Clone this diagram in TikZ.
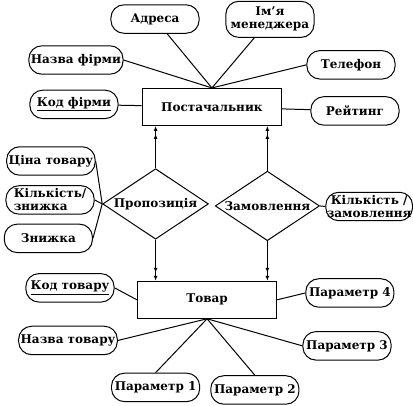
\documentclass[tikz,border=0pt]{standalone}
\usepackage{fontspec}
\setmainfont{DejaVu Serif}
\usetikzlibrary{shapes,arrows.meta,positioning}

\begin{document}
\begin{tikzpicture}[font=\bfseries\fontsize{12}{13}\selectfont]
  \tikzstyle{attr}=[rectangle, draw, line width=1pt, rounded corners=13pt, minimum width=3.1cm, minimum height=1cm, align=center, inner sep=2pt]
  \tikzstyle{entity}=[rectangle, draw, line width=1pt, minimum width=4.9cm, minimum height=1.3cm]
  \tikzstyle{rel}=[diamond, draw, line width=1pt, aspect=1.5, inner sep=1pt]
  \tikzstyle{link}=[line width=1pt]
  \tikzstyle{many}=[line width=1pt, -{Latex[length=5pt,width=4pt,sep=3pt]Latex[length=5pt,width=4pt]}]

  \useasboundingbox (0,0) rectangle (14.52,14.27);

  % Постачальник
  \node[entity] (post) at (7.45,10.51) {Постачальник};
  \node[attr] (adresa) at (5.45,13.60) {Адреса};
  \node[attr, minimum height=1.27cm] (menedzher) at (9.49,13.59) {Ім’я\\менеджера};
  \node[attr] (nazvaf) at (2.67,12.16) {Назва фірми};
  \node[attr] (telefon) at (12.34,11.99) {Телефон};
  \node[attr] (kodf) at (2.60,10.60) {\underline{Код фірми}};
  \node[attr] (reiting) at (12.48,10.37) {Рейтинг};

  % Зв'язки
  \node[rel] (propoz) at (5.47,7.10) {Пропозиція};
  \node[rel] (zamovl) at (9.40,7.03) {Замовлення};
  \node[attr] (cina) at (1.79,8.61) {Ціна товару};
  \node[attr, align=left] (kilkz) at (1.76,7.24) {Кількість/\\знижка};
  \node[attr] (znyzhka) at (1.70,5.89) {Знижка};
  \node[attr, minimum width=2.99cm, inner sep=1pt, anchor=east] (kilkzam) at (14.52,7.01) {Кількість /\\замовлення};

  % Товар
  \node[entity] (tovar) at (7.28,3.73) {Товар};
  \node[attr] (kodt) at (2.46,4.15) {\underline{Код товару}};
  \node[attr] (nazvat) at (2.39,2.30) {Назва товару};
  \node[attr] (par1) at (5.47,0.65) {Параметр 1};
  \node[attr] (par2) at (8.96,0.56) {Параметр 2};
  \node[attr] (par3) at (12.20,2.11) {Параметр 3};
  \node[attr] (par4) at (12.30,3.97) {Параметр 4};

  % Атрибути постачальника
  \draw[link] (adresa) -- (post.north);
  \draw[link] (nazvaf.east) -- (post.north);
  \draw[link] (menedzher) -- (post.north);
  \draw[link] (telefon.west) -- (post.north);
  \draw[link] (kodf) -- (post);
  \draw[link] (reiting) -- (post);

  % Атрибути зв'язків
  \draw[link] (cina.east) -- (propoz.west);
  \draw[link] (kilkz.east) -- (propoz.west);
  \draw[link] (znyzhka.east) -- (propoz.west);
  \draw[link] (zamovl.east) -- (kilkzam.west);

  % Атрибути товару
  \draw[link] (kodt.east) -- (tovar.west);
  \draw[link] (nazvat.east) -- (tovar.south);
  \draw[link] (par1.north) -- (tovar.south);
  \draw[link] (par2.north) -- (tovar.south);
  \draw[link] (par3.west) -- (tovar.south);
  \draw[link] (par4.west) -- (tovar.east);

  % Стрілки
  \draw[many] (propoz.north) -- (propoz.north |- post.south);
  \draw[many] (zamovl.north) -- (zamovl.north |- post.south);
  \draw[many] (propoz.south) -- (propoz.south |- tovar.north);
  \draw[many] (zamovl.south) -- (zamovl.south |- tovar.north);
\end{tikzpicture}
\end{document}
